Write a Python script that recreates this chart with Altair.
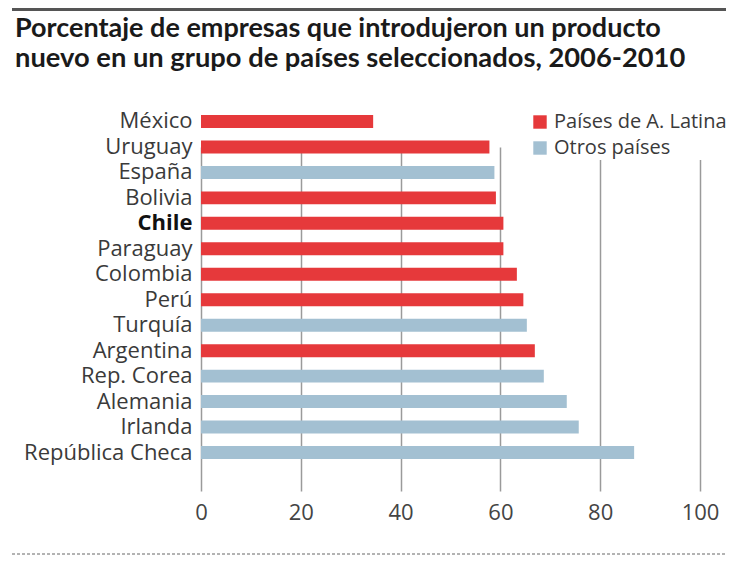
import altair as alt
import pandas as pd

title_lines = [
    "Porcentaje de empresas que introdujeron un producto",
    "nuevo en un grupo de países seleccionados, 2006-2010",
]
countries = ["México", "Uruguay", "España", "Bolivia", "Chile", "Paraguay", "Colombia",
             "Perú", "Turquía", "Argentina", "Rep. Corea", "Alemania", "Irlanda",
             "República Checa"]
values = [34.5, 57.8, 58.8, 59.1, 60.6, 60.6, 63.3, 64.6, 65.3, 66.9, 68.7, 73.3, 75.7, 86.8]
groups = ["Países de A. Latina", "Países de A. Latina", "Otros países", "Países de A. Latina",
          "Países de A. Latina", "Países de A. Latina", "Países de A. Latina",
          "Países de A. Latina", "Otros países", "Países de A. Latina", "Otros países",
          "Otros países", "Otros países", "Otros países"]
legend_order = ["Países de A. Latina", "Otros países"]
colors = ["#E6393B", "#A3C0D2"]
x_ticks = [0, 20, 40, 60, 80, 100]

df = pd.DataFrame({"pais": countries, "valor": values, "grupo": groups})

LABEL_FONT = "Open Sans"

bars = alt.Chart(df).mark_bar().encode(
    x=alt.X("valor:Q",
            scale=alt.Scale(domain=[0, 100], nice=False),
            axis=alt.Axis(values=x_ticks, title=None, grid=True, gridColor="#9a9a9a",
                          gridWidth=1.5, domain=False, ticks=False, labelPadding=11,
                          labelFlush=False,
                          labelFont=LABEL_FONT, labelFontSize=22, labelColor="#444444",
                          labelFontWeight="normal")),
    y=alt.Y("pais:N", sort=countries,
            scale=alt.Scale(range=[0, 344], paddingInner=0.49, paddingOuter=0),
            axis=alt.Axis(title=None, domain=False, ticks=False, grid=False, labelPadding=9,
                          labelFont=LABEL_FONT, labelFontSize=22, labelLimit=300,
                          labelColor={"condition": {"test": "datum.value === 'Chile'", "value": "#111111"}, "value": "#3a3a3a"},
                          labelFontWeight={"condition": {"test": "datum.value === 'Chile'", "value": "bold"}, "value": "normal"})),
    color=alt.Color("grupo:N",
                    scale=alt.Scale(domain=legend_order, range=colors),
                    legend=alt.Legend(title=None, orient="none", legendX=327, legendY=-5,
                                      symbolType="square", symbolSize=180, symbolStrokeWidth=0,
                                      labelFont=LABEL_FONT, labelFontSize=20, labelColor="#3a3a3a",
                                      labelLimit=300, labelOffset=4, rowPadding=6, padding=2,
                                      fillColor="white")),
)

t1 = alt.Chart(pd.DataFrame({"t": [title_lines[0]]})).mark_text(
    align="left", baseline="alphabetic", font="Lato", fontSize=27, fontWeight="bold",
    color="#1a1a1a").encode(text="t:N", x=alt.value(-186), y=alt.value(-78))
t2 = alt.Chart(pd.DataFrame({"t": [title_lines[1]]})).mark_text(
    align="left", baseline="alphabetic", font="Lato", fontSize=27.3, fontWeight="bold",
    color="#1a1a1a").encode(text="t:N", x=alt.value(-186), y=alt.value(-48))

one = pd.DataFrame({"a": [0]})
top_line = alt.Chart(one).mark_rule(color="#555555", strokeWidth=3).encode(
    x=alt.value(-189), x2=alt.value(540), y=alt.value(-105.5))
bottom_line = alt.Chart(one).mark_rule(color="#9a9a9a", strokeWidth=1.5, strokeDash=[3, 2]).encode(
    x=alt.value(-189), x2=alt.value(540), y=alt.value(439))

chart = alt.layer(bars, t1, t2, top_line, bottom_line).properties(
    width=499, height=376,
    autosize=alt.AutoSizeParams(type="none"),
    padding={"left": 193, "top": 107, "right": 26, "bottom": 65},
).configure_view(stroke=None)

chart.save("out.html", embed_options={"renderer": "svg", "actions": False})
